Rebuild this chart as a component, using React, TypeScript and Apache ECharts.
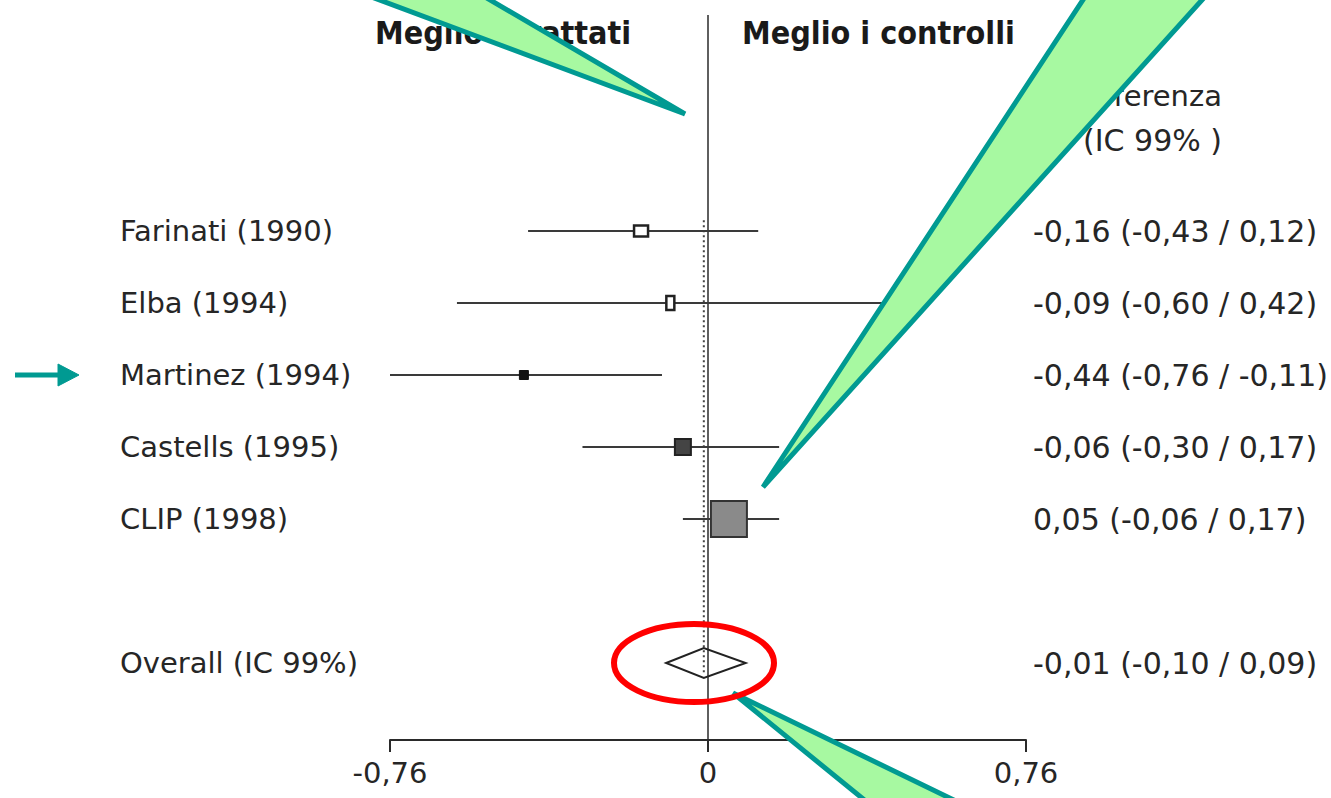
import React, { useEffect, useRef } from 'react';
import * as echarts from 'echarts';

// ---------------- data ----------------
const studies = ['Farinati (1990)', 'Elba (1994)', 'Martinez (1994)', 'Castells (1995)', 'CLIP (1998)'];
const estimates = [-0.16, -0.09, -0.44, -0.06, 0.05];
const lowerCI = [-0.43, -0.6, -0.76, -0.3, -0.06];
const upperCI = [0.12, 0.42, -0.11, 0.17, 0.17];
const studyRows = [0, 1, 2, 3, 4];
const overallLabel = 'Overall (IC 99%)';
const overallEstimate = -0.01;
const overallLower = -0.1;
const overallUpper = 0.09;
const overallRow = 6;
const xTicks = [-0.76, 0, 0.76];
const headerLeft = 'Meglio i trattati';
const headerRight = 'Meglio i controlli';
const columnTitle = ['Differenza', '(IC 99% )'];

// ---------------- styles ----------------
const FONT = '"DejaVu Sans", sans-serif';
const HFONT = '"DejaVu Sans Condensed", "DejaVu Sans", sans-serif';
const TEXT = '#262626';
const boxStyles = [
  { w: 14, h: 11, fill: '#ffffff', stroke: '#222', lw: 2.5 },
  { w: 8, h: 14, fill: '#ffffff', stroke: '#222', lw: 2.5 },
  { w: 9, h: 9, fill: '#111111', stroke: '#111', lw: 1 },
  { w: 16, h: 16, fill: '#444444', stroke: '#222', lw: 2 },
  { w: 36, h: 36, fill: '#8a8a8a', stroke: '#333', lw: 2 },
];
const GREEN = '#a7f9a1';
const TEAL = '#009a92';
const Y_MIN = -3;
const Y_MAX = 509 / 72;

const fmt = (v: number) => (v === 0 ? '0' : v.toFixed(2).replace('.', ','));
const ciText = (e: number, l: number, h: number) => `${fmt(e)} (${fmt(l)} / ${fmt(h)})`;

export default function App() {
  const ref = useRef<HTMLDivElement>(null);

  useEffect(() => {
    if (!ref.current) return;
    const chart = echarts.init(ref.current, undefined, { renderer: 'svg' });

    const studyData = studies.map((_, i) => [lowerCI[i], upperCI[i], estimates[i], studyRows[i]]);

    const leftText = (text: string, y: number) => ({
      type: 'text',
      style: { text, x: 120, y, fill: TEXT, fontSize: 29, fontFamily: FONT, align: 'left', verticalAlign: 'middle' },
    });
    const rightText = (text: string, y: number) => ({
      type: 'text',
      style: { text, x: 1033, y, fill: TEXT, fontSize: 30, fontFamily: FONT, align: 'left', verticalAlign: 'middle' },
    });

    const option: any = {
      animation: false,
      backgroundColor: '#ffffff',
      grid: { left: 390, right: 305, top: 15, bottom: 58, containLabel: false },
      xAxis: {
        type: 'value',
        min: xTicks[0],
        max: xTicks[2],
        interval: xTicks[2],
        position: 'bottom',
        axisLine: { show: true, onZero: false, lineStyle: { color: '#2a2a2a', width: 2 } },
        axisTick: { show: true, inside: false, length: 12, lineStyle: { color: '#2a2a2a', width: 2 } },
        axisLabel: {
          show: true,
          margin: 18,
          fontSize: 29,
          fontFamily: FONT,
          color: TEXT,
          formatter: (v: number) => fmt(v),
        },
        splitLine: { show: false },
      },
      yAxis: { type: 'value', inverse: true, min: Y_MIN, max: Y_MAX, show: false },
      series: [
        {
          type: 'custom',
          name: 'refs',
          clip: false,
          z: 1,
          data: [
            [0, Y_MIN, Y_MAX, 0],
            [overallEstimate, -0.15, 6.15, 1],
          ],
          renderItem: (params: any, api: any) => {
            const x = api.value(0);
            const p1 = api.coord([x, api.value(1)]);
            const p2 = api.coord([x, api.value(2)]);
            const dotted = api.value(3) === 1;
            return {
              type: 'line',
              shape: { x1: p1[0], y1: p1[1], x2: p2[0], y2: p2[1] },
              style: {
                stroke: dotted ? '#444' : '#2a2a2a',
                lineWidth: dotted ? 2 : 1.5,
                lineDash: dotted ? [2, 3] : null,
              },
            };
          },
        },
        {
          type: 'custom',
          name: 'studies',
          clip: false,
          z: 3,
          data: studyData,
          renderItem: (params: any, api: any) => {
            const i = params.dataIndex;
            const row = api.value(3);
            const p1 = api.coord([api.value(0), row]);
            const p2 = api.coord([api.value(1), row]);
            const pe = api.coord([api.value(2), row]);
            const b = boxStyles[i];
            return {
              type: 'group',
              children: [
                {
                  type: 'line',
                  shape: { x1: p1[0], y1: p1[1], x2: p2[0], y2: p2[1] },
                  style: { stroke: '#3a3a3a', lineWidth: 2 },
                },
                {
                  type: 'rect',
                  shape: { x: pe[0] - b.w / 2, y: pe[1] - b.h / 2, width: b.w, height: b.h },
                  style: { fill: b.fill, stroke: b.stroke, lineWidth: b.lw },
                },
                leftText(studies[i], pe[1]),
                rightText(ciText(estimates[i], lowerCI[i], upperCI[i]), pe[1]),
              ],
            };
          },
        },
        {
          type: 'custom',
          name: 'overall',
          clip: false,
          z: 3,
          data: [[overallLower, overallUpper, overallEstimate, overallRow]],
          renderItem: (params: any, api: any) => {
            const row = api.value(3);
            const pl = api.coord([api.value(0), row]);
            const ph = api.coord([api.value(1), row]);
            const pe = api.coord([api.value(2), row]);
            return {
              type: 'group',
              children: [
                {
                  type: 'polygon',
                  shape: {
                    points: [
                      [pl[0], pl[1]],
                      [pe[0], pe[1] - 15],
                      [ph[0], ph[1]],
                      [pe[0], pe[1] + 15],
                    ],
                  },
                  style: { fill: 'rgba(255,255,255,0)', stroke: '#222', lineWidth: 2 },
                },
                leftText(overallLabel, pe[1]),
                rightText(ciText(overallEstimate, overallLower, overallUpper), pe[1]),
              ],
            };
          },
        },
      ],
      graphic: [
        {
          type: 'text',
          z: 10,
          style: { text: headerLeft, x: 375, y: 33, fill: '#1a1a1a', fontSize: 32, fontFamily: HFONT, fontWeight: 'bold', align: 'left', verticalAlign: 'middle' },
        },
        {
          type: 'text',
          z: 10,
          style: { text: headerRight, x: 742, y: 33, fill: '#1a1a1a', fontSize: 32, fontFamily: HFONT, fontWeight: 'bold', align: 'left', verticalAlign: 'middle' },
        },
        {
          type: 'text',
          z: 10,
          style: { text: columnTitle[0], x: 1222, y: 96, fill: TEXT, fontSize: 29, fontFamily: FONT, align: 'right', verticalAlign: 'middle' },
        },
        {
          type: 'text',
          z: 10,
          style: { text: columnTitle[1], x: 1222, y: 140, fill: TEXT, fontSize: 30, fontFamily: FONT, align: 'right', verticalAlign: 'middle' },
        },
        // callout triangles
        {
          type: 'polygon',
          z: 100,
          shape: { points: [[326, -20], [456, -20], [685, 114]] },
          style: { fill: GREEN, stroke: TEAL, lineWidth: 5, lineJoin: 'miter' },
        },
        {
          type: 'polygon',
          z: 100,
          shape: { points: [[1096, -20], [1220, -20], [763, 487]] },
          style: { fill: GREEN, stroke: TEAL, lineWidth: 5, lineJoin: 'miter' },
        },
        {
          type: 'polygon',
          z: 100,
          shape: { points: [[733, 693], [889, 820], [995, 820]] },
          style: { fill: GREEN, stroke: TEAL, lineWidth: 5, lineJoin: 'miter' },
        },
        // red ellipse
        {
          type: 'ellipse',
          z: 101,
          shape: { cx: 694, cy: 663, rx: 80, ry: 39 },
          style: { fill: 'rgba(0,0,0,0)', stroke: '#ff0000', lineWidth: 6 },
        },
        // arrow
        {
          type: 'line',
          z: 100,
          shape: { x1: 15, y1: 375, x2: 62, y2: 375 },
          style: { stroke: TEAL, lineWidth: 5 },
        },
        {
          type: 'polygon',
          z: 100,
          shape: { points: [[58, 364], [79, 375], [58, 386]] },
          style: { fill: TEAL, stroke: TEAL, lineWidth: 1 },
        },
      ],
    };

    chart.setOption(option);
    return () => chart.dispose();
  }, []);

  return (
    <div
      ref={ref}
      style={{ position: 'fixed', left: 0, top: 0, width: 1331, height: 798, background: '#fff' }}
    />
  );
}
